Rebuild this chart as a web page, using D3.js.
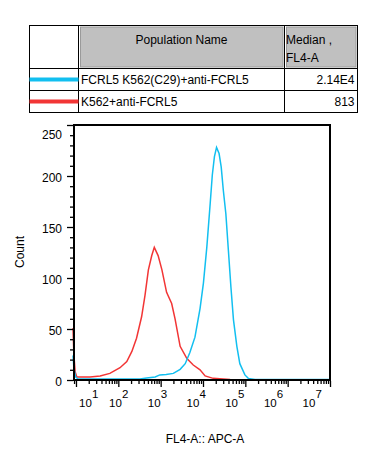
<!DOCTYPE html>
<html lang="en">
    <head>
        <meta charset="utf-8">
        <title>FL4-A histogram</title>
        <script src="https://cdn.jsdelivr.net/npm/d3@7/dist/d3.min.js"></script>
        <style type="text/css">
            body { margin: 0; background: #fff; }
            text { font-family: "Liberation Sans", Arial, sans-serif; fill: #000; }
        </style>
    </head>
    <body>
        <script type="text/javascript">
            // populations shown in the table
            var populations = ["FCRL5 K562(C29)+anti-FCRL5", "K562+anti-FCRL5"];
            var medians = ["2.14E4", "813"];
            var colors = ["#12bff0", "#f23535"];

            // histogram traces: log10(FL4-A) and count
            var blueLog   = [0.93, 0.95, 0.99, 1.05, 2.51, 2.67, 2.87, 2.98, 3.13, 3.30, 3.46, 3.58, 3.69, 3.81, 3.93, 4.01, 4.09, 4.17, 4.22, 4.27, 4.32, 4.38, 4.43, 4.48, 4.54, 4.60, 4.66, 4.72, 4.80, 4.87, 4.99, 5.07, 5.23, 7.0];
            var blueCount = [24, 12, 3, 1, 1, 2, 3, 5, 5.5, 6.5, 10.5, 16, 27, 42, 70, 95, 130, 173, 201, 219, 228, 222, 209, 186, 163, 127, 91, 59, 33, 16, 5, 1.6, 0.5, 0.5];

            var redLog   = [0.93, 0.95, 0.98, 1.02, 1.33, 1.57, 1.80, 2.04, 2.20, 2.32, 2.43, 2.55, 2.63, 2.71, 2.79, 2.85, 2.94, 3.03, 3.14, 3.26, 3.34, 3.46, 3.62, 3.77, 3.93, 4.05, 4.24, 4.64, 5.11, 7.0];
            var redCount = [51, 25, 8, 3, 3, 4, 6.5, 12, 18, 28, 41, 62, 83, 108, 122, 130, 122, 108, 86, 75, 60, 33, 21, 14.7, 10, 4, 1.6, 0.5, 0, 0];

            var yTicks = [0, 50, 100, 150, 200, 250];
            var xExps = [1, 2, 3, 4, 5, 6, 7];

            drawChart();

            function drawChart() {
              var w = 388, h = 461;
              var svg = d3.select('body').append('svg')
                          .attr('width', w)
                          .attr('height', h);

              // ---- table ----
              var tx0 = 29.5, tx1 = 78.5, tx2 = 284.5, tx3 = 357.5;
              var ty0 = 25.5, ty1 = 68.5, ty2 = 90.5, ty3 = 112.5;

              svg.append('rect').attr('x', tx1 + 2).attr('y', ty0 + 1.5)
                 .attr('width', tx2 - tx1 - 3.5).attr('height', ty1 - ty0 - 3)
                 .attr('fill', '#c0c0c0').attr('stroke', '#9a9a9a');
              svg.append('rect').attr('x', tx2 + 2).attr('y', ty0 + 1.5)
                 .attr('width', tx3 - tx2 - 3.5).attr('height', ty1 - ty0 - 3)
                 .attr('fill', '#c0c0c0').attr('stroke', '#9a9a9a');

              svg.append('rect').attr('x', tx0).attr('y', ty0)
                 .attr('width', tx3 - tx0).attr('height', ty3 - ty0)
                 .attr('fill', 'none').attr('stroke', '#000');
              [tx1, tx2].forEach(function(x) {
                svg.append('line').attr('x1', x).attr('x2', x).attr('y1', ty0).attr('y2', ty3).attr('stroke', '#000');
              });
              [ty1, ty2].forEach(function(y) {
                svg.append('line').attr('x1', tx0).attr('x2', tx3).attr('y1', y).attr('y2', y).attr('stroke', '#000');
              });

              svg.append('text').text('Population Name')
                 .attr('x', (tx1 + tx2) / 2).attr('y', 44).attr('text-anchor', 'middle').attr('font-size', '12px');
              svg.append('text').text('Median ,')
                 .attr('x', tx2 + 1.5).attr('y', 44).attr('font-size', '12px');
              svg.append('text').text('FL4-A')
                 .attr('x', tx2 + 1.5).attr('y', 62).attr('font-size', '12px');

              var rowMid = [(ty1 + ty2) / 2, (ty2 + ty3) / 2];
              populations.forEach(function(p, i) {
                svg.append('line').attr('x1', tx0).attr('x2', tx1)
                   .attr('y1', rowMid[i]).attr('y2', rowMid[i])
                   .attr('stroke', colors[i]).attr('stroke-width', 4);
                svg.append('text').text(p)
                   .attr('x', tx1 + 2.5).attr('y', rowMid[i] + 4.5).attr('font-size', '12px');
                svg.append('text').text(medians[i])
                   .attr('x', tx3 - 3).attr('y', rowMid[i] + 4.5)
                   .attr('text-anchor', 'end').attr('font-size', '12px');
              });

              // ---- histogram ----
              var pLeft = 74, pRight = 330, pTop = 125, pBottom = 380;

              var xScale = d3.scaleLog().domain([8.5, 1e7]).range([pLeft - 1, pRight]);
              var yScale = d3.scaleLinear().domain([0, 250]).range([pBottom, pTop]);

              var line = d3.line()
                           .x(function(d) { return xScale(Math.pow(10, d[0])); })
                           .y(function(d) { return yScale(d[1]); });

              var red = redLog.map(function(v, i) { return [v, redCount[i]]; });
              var blue = blueLog.map(function(v, i) { return [v, blueCount[i]]; });

              svg.append('path').datum(red).attr('d', line)
                 .attr('fill', 'none').attr('stroke', colors[1]).attr('stroke-width', 1.5);
              svg.append('path').datum(blue).attr('d', line)
                 .attr('fill', 'none').attr('stroke', colors[0]).attr('stroke-width', 1.5);

              // frame
              svg.append('rect').attr('x', pLeft).attr('y', pTop)
                 .attr('width', pRight - pLeft).attr('height', pBottom - pTop)
                 .attr('fill', 'none').attr('stroke', '#000').attr('stroke-width', 2);

              // y axis ticks
              var yMinor = d3.range(0, 251, 10).filter(function(v) { return v % 50 != 0; });
              svg.append('g').attr('transform', 'translate(' + (pLeft - 1) + ',0)')
                 .call(d3.axisLeft(yScale).tickValues(yTicks).tickSize(6).tickFormat(''))
                 .call(function(g) { g.select('.domain').remove(); g.selectAll('line').attr('stroke-width', 1.3); });
              svg.append('g').attr('transform', 'translate(' + (pLeft - 1) + ',0)')
                 .call(d3.axisLeft(yScale).tickValues(yMinor).tickSize(3).tickFormat(''))
                 .call(function(g) { g.select('.domain').remove(); g.selectAll('line').attr('stroke-width', 1.3); });

              svg.selectAll('.ylab').data(yTicks).enter().append('text')
                 .attr('class', 'ylab')
                 .text(function(d) { return d; })
                 .attr('x', 62)
                 .attr('y', function(d) { return Math.max(yScale(d) + 5.5, 138.5); })
                 .attr('text-anchor', 'end')
                 .attr('font-size', '12px');

              // x axis ticks
              var xMajor = xExps.map(function(e) { return Math.pow(10, e); });
              var xMinor = [];
              for (var e = 0; e < 7; e++) {
                for (var k = 2; k <= 9; k++) {
                  var v = k * Math.pow(10, e);
                  if (v >= 8.5 && v <= 1e7) xMinor.push(v);
                }
              }
              svg.append('g').attr('transform', 'translate(0,' + (pBottom + 1) + ')')
                 .call(d3.axisBottom(xScale).tickValues(xMajor).tickSize(6).tickFormat(''))
                 .call(function(g) { g.select('.domain').remove(); g.selectAll('line').attr('stroke-width', 1.3); });
              svg.append('g').attr('transform', 'translate(0,' + (pBottom + 1) + ')')
                 .call(d3.axisBottom(xScale).tickValues(xMinor).tickSize(3).tickFormat(''))
                 .call(function(g) { g.select('.domain').remove(); g.selectAll('line').attr('stroke-width', 1.3); });

              // decade labels: laid out on their own spacing, first one kept inside the axis
              var labScale = d3.scaleLinear().domain([2, 7]).range([115.5, 309]);
              var xlab = svg.selectAll('.xlab').data(xExps).enter().append('g')
                 .attr('class', 'xlab')
                 .attr('transform', function(d) { return 'translate(' + Math.max(labScale(d), 85.5) + ',0)'; });
              xlab.append('text').text('10')
                 .attr('x', 0).attr('y', 407).attr('text-anchor', 'middle').attr('font-size', '11.5px');
              xlab.append('text').text(function(d) { return d; })
                 .attr('x', 6.5).attr('y', 398).attr('font-size', '11.5px');

              // axis titles
              svg.append('text').text('FL4-A:: APC-A')
                 .attr('x', 205).attr('y', 443).attr('text-anchor', 'middle').attr('font-size', '12px');
              svg.append('text').text('Count')
                 .attr('transform', 'translate(24,252) rotate(-90)')
                 .attr('text-anchor', 'middle').attr('font-size', '12px');
            }
        </script>
    </body>
</html>
